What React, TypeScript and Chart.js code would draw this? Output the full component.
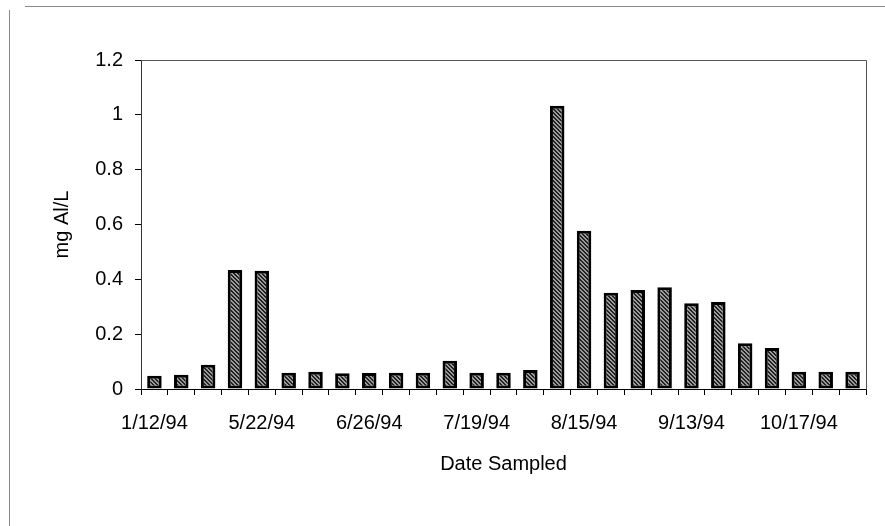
import React, { useEffect, useRef } from "react";
import { Chart, registerables } from "chart.js";

Chart.register(...registerables);

const categories: string[] = [
  "1/12/94", "", "", "",
  "5/22/94", "", "", "",
  "6/26/94", "", "", "",
  "7/19/94", "", "", "",
  "8/15/94", "", "", "",
  "9/13/94", "", "", "",
  "10/17/94", "", "",
];

const alValues: number[] = [
  0.048, 0.052, 0.088, 0.434, 0.431, 0.059, 0.063, 0.057, 0.058, 0.059,
  0.059, 0.103, 0.059, 0.059, 0.069, 1.033, 0.577, 0.351, 0.361, 0.371,
  0.313, 0.317, 0.167, 0.15, 0.063, 0.063, 0.063,
];

const yTickValues: number[] = [0, 0.2, 0.4, 0.6, 0.8, 1, 1.2];
const yTickLabels: string[] = ["0", "0.2", "0.4", "0.6", "0.8", "1", "1.2"];

const yTitle = "mg Al/L";
const xTitle = "Date Sampled";

function makePattern(): CanvasPattern | string {
  const c = document.createElement("canvas");
  c.width = 4;
  c.height = 4;
  const g = c.getContext("2d");
  if (!g) return "#777";
  g.fillStyle = "#9a9a9a";
  g.fillRect(0, 0, 4, 4);
  g.fillStyle = "#222";
  for (let i = 0; i < 4; i++) {
    g.fillRect(i, i, 1, 1);
    g.fillRect((i + 1) % 4, i, 1, 1);
  }
  const p = g.createPattern(c, "repeat");
  return p || "#777";
}

const framePlugin = {
  id: "frame",
  beforeDraw(chart: any) {
    const ctx = chart.ctx;
    ctx.save();
    ctx.strokeStyle = "#8a8a8a";
    ctx.lineWidth = 1;
    ctx.beginPath();
    ctx.moveTo(9.5, 10);
    ctx.lineTo(9.5, 526);
    ctx.moveTo(25, 6.5);
    ctx.lineTo(885, 6.5);
    ctx.stroke();
    ctx.restore();
  },
  afterDraw(chart: any) {
    const { ctx, chartArea } = chart;
    ctx.save();
    ctx.strokeStyle = "#555";
    ctx.lineWidth = 1;
    ctx.beginPath();
    ctx.moveTo(Math.round(chartArea.left) + 0.5, Math.round(chartArea.top) + 0.5);
    ctx.lineTo(Math.round(chartArea.right) + 0.5, Math.round(chartArea.top) + 0.5);
    ctx.lineTo(Math.round(chartArea.right) + 0.5, Math.round(chartArea.bottom) + 0.5);
    ctx.stroke();
    ctx.restore();
  },
};

export default function App() {
  const ref = useRef<HTMLCanvasElement | null>(null);

  useEffect(() => {
    if (!ref.current) return;
    const font = { family: "'Liberation Sans', Arial, sans-serif", size: 20 };
    const chart = new Chart(ref.current, {
      type: "bar",
      data: {
        labels: categories,
        datasets: [
          {
            label: yTitle,
            data: alValues,
            backgroundColor: makePattern() as any,
            borderColor: "#000",
            borderWidth: 3,
            borderSkipped: false,
            barPercentage: 0.54,
            categoryPercentage: 1,
          },
        ],
      },
      options: {
        responsive: false,
        animation: false,
        devicePixelRatio: 1,
        layout: { padding: { left: 0, top: 60, right: 19, bottom: 0 } },
        plugins: {
          legend: { display: false },
          tooltip: { enabled: false },
        },
        scales: {
          x: {
            offset: true,
            grid: {
              offset: true,
              drawOnChartArea: false,
              drawTicks: true,
              tickLength: 6,
              color: "#000",
            },
            border: { display: true, color: "#000", width: 1 },
            ticks: {
              autoSkip: false,
              maxRotation: 0,
              minRotation: 0,
              padding: 16,
              color: "#000",
              font,
            },
            title: {
              display: true,
              text: xTitle,
              color: "#000",
              font,
              padding: { top: 0, bottom: 50 },
            },
            afterFit(scale: any) {
              scale.height = 137;
            },
          },
          y: {
            min: yTickValues[0],
            max: yTickValues[yTickValues.length - 1],
            afterBuildTicks(scale: any) {
              scale.ticks = yTickValues.map((v) => ({ value: v }));
            },
            ticks: {
              padding: 12,
              color: "#000",
              font,
              callback(value: any) {
                const i = yTickValues.findIndex((v) => Math.abs(v - Number(value)) < 1e-9);
                return i >= 0 ? yTickLabels[i] : "";
              },
            },
            grid: {
              drawOnChartArea: false,
              drawTicks: true,
              tickLength: 6,
              color: "#000",
            },
            border: { display: true, color: "#333", width: 1 },
            title: {
              display: true,
              text: yTitle,
              color: "#000",
              font,
              padding: { top: 50, bottom: 0 },
            },
            afterFit(scale: any) {
              scale.width = 141;
            },
          },
        },
      },
      plugins: [framePlugin],
    });
    return () => chart.destroy();
  }, []);

  return (
    <div style={{ position: "fixed", left: 0, top: 0, width: 885, height: 526, background: "#fff" }}>
      <canvas ref={ref} width={885} height={526} style={{ display: "block" }} />
    </div>
  );
}
